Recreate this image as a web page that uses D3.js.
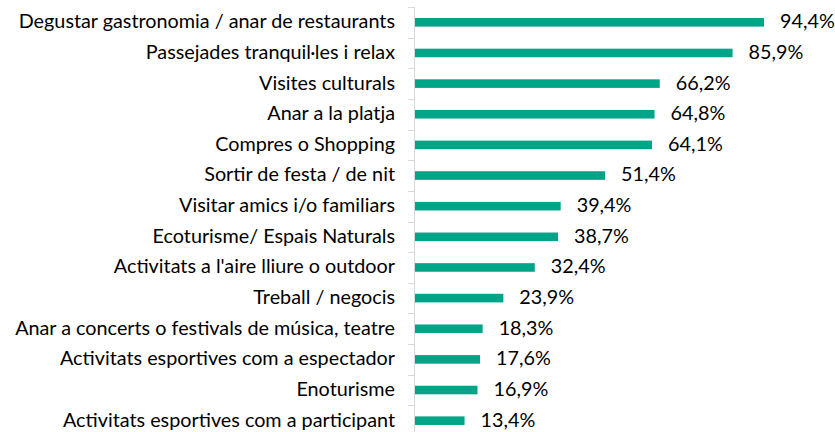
<!DOCTYPE html>
<html>
<head>
<meta charset="utf-8">
<script src="https://cdn.jsdelivr.net/npm/d3@7"></script>
<style>
  body { margin: 0; background: #fff; }
  text { font-family: Lato, "Open Sans", sans-serif; fill: #000; }
</style>
</head>
<body>
<div class="chart"></div>
<script>
// categories, top to bottom
var categories = [
  "Degustar gastronomia / anar de restaurants",
  "Passejades tranquil·les i relax",
  "Visites culturals",
  "Anar a la platja",
  "Compres o Shopping",
  "Sortir de festa / de nit",
  "Visitar amics i/o familiars",
  "Ecoturisme/ Espais Naturals",
  "Activitats a l'aire lliure o outdoor",
  "Treball / negocis",
  "Anar a concerts o festivals de música, teatre",
  "Activitats esportives com a espectador",
  "Enoturisme",
  "Activitats esportives com a participant"
];
var values = [94.4, 85.9, 66.2, 64.8, 64.1, 51.4, 39.4, 38.7, 32.4, 23.9, 18.3, 17.6, 16.9, 13.4];

var width = 835, height = 432;
var axisX = 414;   // vertical axis line
var barColor = "#00a587";
var fontSize = "19.8px";

var svg = d3.select(".chart").append("svg")
    .attr("width", width)
    .attr("height", height);

var x = d3.scaleLinear().domain([0, 100]).range([axisX + 1, axisX + 1 + 369.7]);

var pad = 0.72;
var y = d3.scaleBand()
    .domain(categories)
    .range([7, 436])
    .paddingInner(pad)
    .paddingOuter(pad / 2);

var step = y.step();

// axis line + ticks at band boundaries
svg.append("line")
    .attr("x1", axisX + 0.5).attr("x2", axisX + 0.5)
    .attr("y1", 7).attr("y2", height)
    .attr("stroke", "#d9d9d9").attr("stroke-width", 1);

var bounds = d3.range(categories.length + 1).map(function(i) { return 7 + i * step; });
svg.selectAll(".tick").data(bounds).enter().append("line")
    .attr("x1", axisX - 6).attr("x2", axisX)
    .attr("y1", function(d) { return Math.round(d) + 0.5; })
    .attr("y2", function(d) { return Math.round(d) + 0.5; })
    .attr("stroke", "#d9d9d9");

// bars
svg.selectAll(".bar").data(values).enter().append("rect")
    .attr("x", x(0))
    .attr("y", function(d, i) { return y(categories[i]); })
    .attr("width", function(d) { return x(d) - x(0); })
    .attr("height", y.bandwidth())
    .attr("fill", barColor);

// category labels
svg.selectAll(".cat").data(categories).enter().append("text")
    .attr("x", 395)
    .attr("y", function(d) { return y(d) + y.bandwidth() / 2; })
    .attr("dy", "0.3em")
    .attr("text-anchor", "end")
    .attr("font-size", fontSize)
    .text(function(d) { return d; });

// value labels
svg.selectAll(".val").data(values).enter().append("text")
    .attr("x", function(d) { return x(d) + 16; })
    .attr("y", function(d, i) { return y(categories[i]) + y.bandwidth() / 2; })
    .attr("dy", "0.3em")
    .attr("font-size", fontSize)
    .text(function(d) { return d.toFixed(1).replace(".", ",") + "%"; });
</script>
</body>
</html>
